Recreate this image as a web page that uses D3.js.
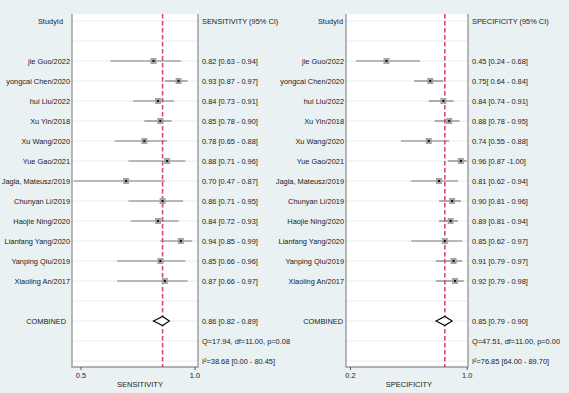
<!DOCTYPE html>
<html>
<head>
<meta charset="utf-8">
<script src="https://cdn.jsdelivr.net/npm/d3@7"></script>
<style>
  html, body { margin: 0; padding: 0; background: #e9f1f3; }
  svg { display: block; font-family: "Liberation Sans", Arial, sans-serif; }
</style>
</head>
<body>
<div id="chart"></div>
<script>
const width = 569;
const height = 393;

// study names, top to bottom
const studies = [
  "jie Guo/2022", "yongcai Chen/2020", "hui Liu/2022", "Xu Yin/2018",
  "Xu Wang/2020", "Yue Gao/2021", "Jagla, Mateusz/2019", "Chunyan Li/2019",
  "Haojie Ning/2020", "Lianfang Yang/2020", "Yanping Qiu/2019", "Xiaoling An/2017",
];

// sensitivity estimate, lower and upper 95% CI
const sensEst = [0.82, 0.93, 0.84, 0.85, 0.78, 0.88, 0.70, 0.86, 0.84, 0.94, 0.85, 0.87];
const sensLow = [0.63, 0.87, 0.73, 0.78, 0.65, 0.71, 0.47, 0.71, 0.72, 0.85, 0.66, 0.66];
const sensHigh = [0.94, 0.97, 0.91, 0.90, 0.88, 0.96, 0.87, 0.95, 0.93, 0.99, 0.96, 0.97];
const sensCombined = [0.86, 0.82, 0.89];
const sensLabels = [
  "0.82 [0.63 - 0.94]", "0.93 [0.87 - 0.97]", "0.84 [0.73 - 0.91]", "0.85 [0.78 - 0.90]",
  "0.78 [0.65 - 0.88]", "0.88 [0.71 - 0.96]", "0.70 [0.47 - 0.87]", "0.86 [0.71 - 0.95]",
  "0.84 [0.72 - 0.93]", "0.94 [0.85 - 0.99]", "0.85 [0.66 - 0.96]", "0.87 [0.66 - 0.97]",
];
const sensStats = ["0.86 [0.82 - 0.89]", "Q=17.94, df=11.00, p=0.08", "I²=38.68 [0.00 - 80.45]"];

// specificity estimate, lower and upper 95% CI
const specEst = [0.45, 0.75, 0.84, 0.88, 0.74, 0.96, 0.81, 0.90, 0.89, 0.85, 0.91, 0.92];
const specLow = [0.24, 0.64, 0.74, 0.78, 0.55, 0.87, 0.62, 0.81, 0.81, 0.62, 0.79, 0.79];
const specHigh = [0.68, 0.84, 0.91, 0.95, 0.88, 1.00, 0.94, 0.96, 0.94, 0.97, 0.97, 0.98];
const specCombined = [0.85, 0.79, 0.90];
const specLabels = [
  "0.45 [0.24 - 0.68]", "0.75[ 0.64 - 0.84]", "0.84 [0.74 - 0.91]", "0.88 [0.78 - 0.95]",
  "0.74 [0.55 - 0.88]", "0.96 [0.87 -1.00]", "0.81 [0.62 - 0.94]", "0.90 [0.81 - 0.96]",
  "0.89 [0.81 - 0.94]", "0.85 [0.62 - 0.97]", "0.91 [0.79 - 0.97]", "0.92 [0.79 - 0.98]",
];
const specStats = ["0.85 [0.79 - 0.90]", "Q=47.51, df=11.00, p=0.00", "I²=76.85 [64.00 - 89.70]"];

const sensTicks = [0.5, 1.0];
const specTicks = [0.2, 1.0];

const fontSize = "7.4px";
const textColor = "#1a1a1a";

const svg = d3.select("#chart")
  .append("svg")
  .attr("width", width)
  .attr("height", height)
  .attr("viewBox", `0 0 ${width} ${height}`);

// rows: 0 header, 2..13 studies, 15 combined, 16 Q, 17 I²
const yScale = d3.scaleLinear().domain([0, 17]).range([21, 361]);
const plotTop = 14;
const plotBottom = 367;

function drawPanel(cfg) {
  const x = d3.scaleLinear().domain(cfg.domain).range(cfg.range);
  const g = svg.append("g");

  g.append("rect")
    .attr("x", cfg.left)
    .attr("y", plotTop)
    .attr("width", cfg.right - cfg.left)
    .attr("height", plotBottom - plotTop)
    .attr("fill", "#ffffff");

  // faint row lines
  const gridRows = [0, 1].concat(d3.range(2, 14), [14, 15, 16, 17]);
  g.selectAll("line.grid")
    .data(gridRows)
    .join("line")
    .attr("class", "grid")
    .attr("x1", cfg.left)
    .attr("x2", cfg.right)
    .attr("y1", (d) => yScale(d))
    .attr("y2", (d) => yScale(d))
    .attr("stroke", "#e6eef0")
    .attr("stroke-width", 1);

  // frame: left, right and bottom
  g.append("path")
    .attr("d", `M${cfg.left},${plotTop}V${plotBottom}H${cfg.right}V${plotTop}`)
    .attr("fill", "none")
    .attr("stroke", "#9a9a9a")
    .attr("stroke-width", 1.4);

  const rows = studies.map((name, i) => ({
    name,
    est: cfg.est[i],
    lo: cfg.low[i],
    hi: cfg.high[i],
    label: cfg.labels[i],
    row: i + 2,
  }));

  // confidence intervals
  g.selectAll("line.ci")
    .data(rows)
    .join("line")
    .attr("class", "ci")
    .attr("x1", (d) => x(d.lo))
    .attr("x2", (d) => x(d.hi))
    .attr("y1", (d) => yScale(d.row))
    .attr("y2", (d) => yScale(d.row))
    .attr("stroke", "#7d7d7d")
    .attr("stroke-width", 1.2);

  // pooled estimate line
  g.append("line")
    .attr("x1", x(cfg.combined[0]))
    .attr("x2", x(cfg.combined[0]))
    .attr("y1", plotTop)
    .attr("y2", plotBottom)
    .attr("stroke", "#d9486a")
    .attr("stroke-width", 1.6)
    .attr("stroke-dasharray", "4.5,2.5");

  // study squares with centre dot
  g.selectAll("rect.box")
    .data(rows)
    .join("rect")
    .attr("class", "box")
    .attr("x", (d) => x(d.est) - 3)
    .attr("y", (d) => yScale(d.row) - 3)
    .attr("width", 6)
    .attr("height", 6)
    .attr("fill", "#a3a3a3");

  g.selectAll("rect.dot")
    .data(rows)
    .join("rect")
    .attr("class", "dot")
    .attr("x", (d) => x(d.est) - 1)
    .attr("y", (d) => yScale(d.row) - 1)
    .attr("width", 2)
    .attr("height", 2)
    .attr("fill", "#111");

  // combined diamond
  const cy = yScale(15);
  const [cEst, cLo, cHi] = cfg.combined;
  g.append("path")
    .attr("d", `M${x(cLo)},${cy}L${x(cEst)},${cy - 4.5}L${x(cHi)},${cy}L${x(cEst)},${cy + 4.5}Z`)
    .attr("fill", "#ffffff")
    .attr("stroke", "#000")
    .attr("stroke-width", 1.1);

  // study names on the left
  g.selectAll("text.name")
    .data(rows)
    .join("text")
    .attr("class", "name")
    .attr("x", cfg.left - 2)
    .attr("y", (d) => yScale(d.row))
    .attr("dy", "0.35em")
    .attr("text-anchor", "end")
    .attr("font-size", fontSize)
    .attr("fill", textColor)
    .text((d) => d.name);

  g.append("text")
    .attr("x", cfg.headerX)
    .attr("y", yScale(0))
    .attr("dy", "0.35em")
    .attr("text-anchor", "end")
    .attr("font-size", fontSize)
    .attr("fill", textColor)
    .text("StudyId");

  g.append("text")
    .attr("x", cfg.combinedX)
    .attr("y", yScale(15))
    .attr("dy", "0.35em")
    .attr("text-anchor", "end")
    .attr("font-size", fontSize)
    .attr("fill", textColor)
    .text("COMBINED");

  // estimate column on the right
  const textX = cfg.right + 4;
  g.append("text")
    .attr("x", textX)
    .attr("y", yScale(0))
    .attr("dy", "0.35em")
    .attr("font-size", fontSize)
    .attr("fill", textColor)
    .text(cfg.header);

  g.selectAll("text.est")
    .data(rows)
    .join("text")
    .attr("class", "est")
    .attr("x", textX)
    .attr("y", (d) => yScale(d.row))
    .attr("dy", "0.35em")
    .attr("font-size", fontSize)
    .attr("fill", textColor)
    .text((d) => d.label);

  g.selectAll("text.stat")
    .data(cfg.stats)
    .join("text")
    .attr("class", "stat")
    .attr("x", textX)
    .attr("y", (d, i) => yScale(15 + i))
    .attr("dy", "0.35em")
    .attr("font-size", fontSize)
    .attr("fill", textColor)
    .text((d) => d);

  // bottom axis
  const axis = g.append("g")
    .attr("transform", `translate(0,${plotBottom})`)
    .call(d3.axisBottom(x).tickValues(cfg.ticks).tickFormat(d3.format(".1f")).tickSize(3).tickPadding(3));
  axis.select(".domain").remove();
  axis.selectAll(".tick line").attr("stroke", "#555");
  axis.selectAll(".tick text")
    .attr("font-size", fontSize)
    .attr("font-family", "Liberation Sans, Arial, sans-serif")
    .attr("fill", textColor);

  g.append("text")
    .attr("x", cfg.titleX)
    .attr("y", 387)
    .attr("text-anchor", "middle")
    .attr("font-size", "7.5px")
    .attr("fill", textColor)
    .text(cfg.title);
}

drawPanel({
  left: 72, right: 198, domain: [0.5, 1.0], range: [80.5, 194.5],
  est: sensEst, low: sensLow, high: sensHigh, labels: sensLabels,
  combined: sensCombined, stats: sensStats, ticks: sensTicks,
  header: "SENSITIVITY (95% CI)", title: "SENSITIVITY",
  headerX: 63, combinedX: 66, titleX: 140,
});

drawPanel({
  left: 346, right: 468, domain: [0.2, 1.0], range: [350, 466.7],
  est: specEst, low: specLow, high: specHigh, labels: specLabels,
  combined: specCombined, stats: specStats, ticks: specTicks,
  header: "SPECIFICITY (95% CI)", title: "SPECIFICITY",
  headerX: 343, combinedX: 343, titleX: 409,
});
</script>
</body>
</html>
